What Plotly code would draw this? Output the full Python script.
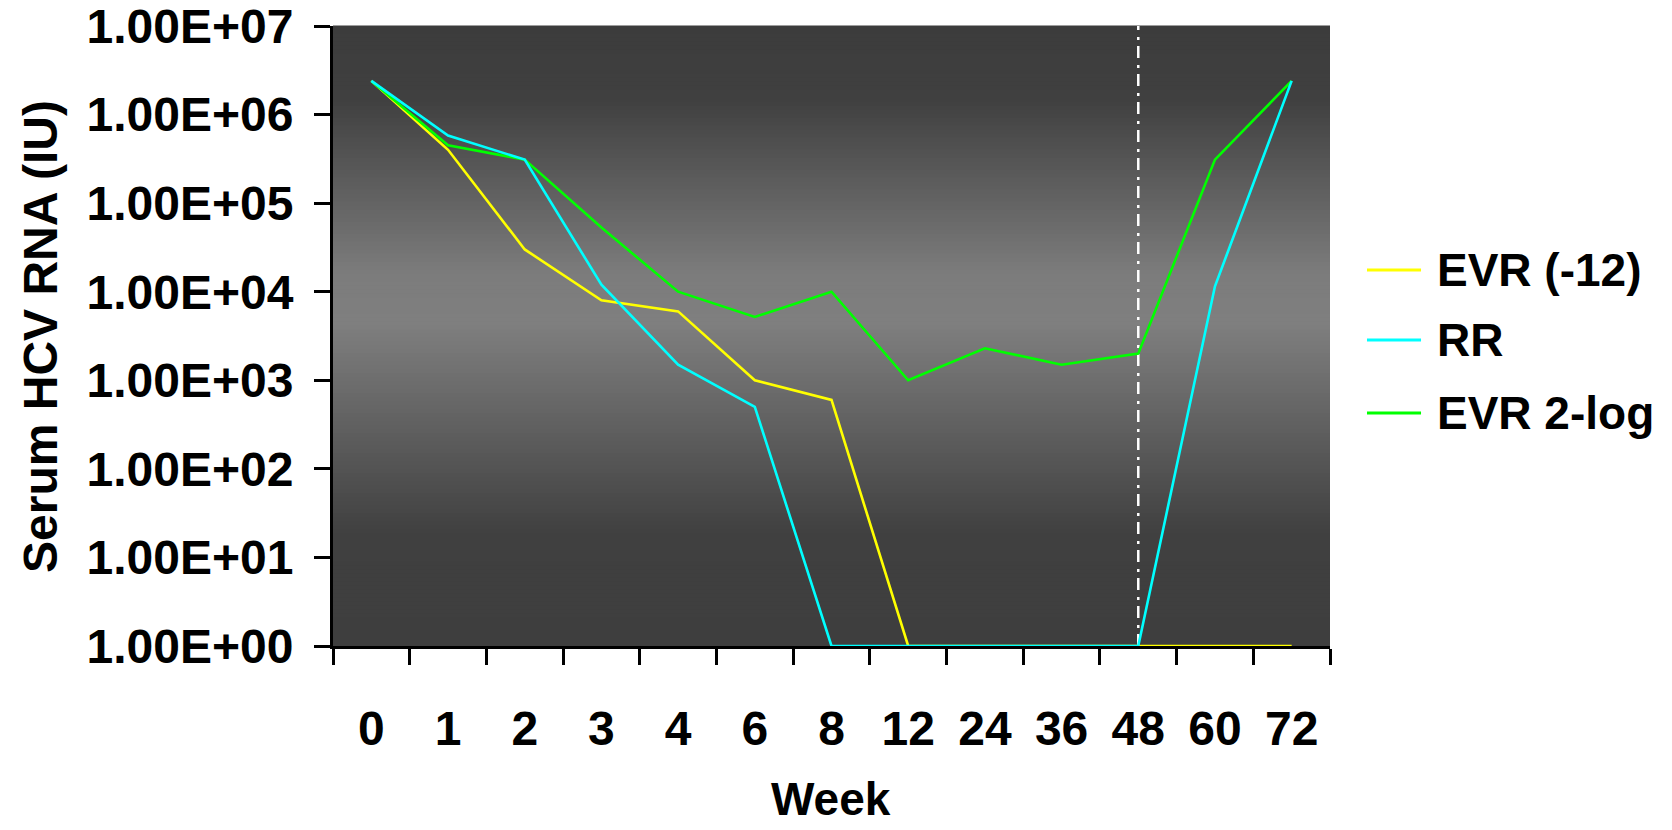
import plotly.graph_objects as go

weeks = ["0", "1", "2", "3", "4", "6", "8", "12", "24", "36", "48", "60", "72"]
evr_12 = [2.4e6, 4.0e5, 3.0e4, 8.0e3, 6.0e3, 1.0e3, 6.0e2, 1, 1, 1, 1, 1, 1]
rr = [2.4e6, 5.8e5, 3.1e5, 1.2e4, 1.5e3, 5.0e2, 1, 1, 1, 1, 1, 1.15e4, 2.4e6]
evr_2log = [2.4e6, 4.5e5, 3.1e5, 5.3e4, 1.0e4, 5.2e3, 1.0e4, 1.0e3, 2.3e3, 1.5e3, 2.0e3, 3.1e5, 2.4e6]
ytick_vals = [1, 10, 100, 1000, 1e4, 1e5, 1e6, 1e7]
ytick_text = ["1.00E+00", "1.00E+01", "1.00E+02", "1.00E+03", "1.00E+04", "1.00E+05", "1.00E+06", "1.00E+07"]
series_names = ["EVR (-12)", "RR", "EVR 2-log"]
series_colors = ["#FFFF00", "#00FFFF", "#00FF00"]

FONT = "Liberation Sans, Arial, Helvetica, sans-serif"

fig = go.Figure()
# draw order: yellow, green, cyan
for vals, name, col in [(evr_12, series_names[0], series_colors[0]),
                        (evr_2log, series_names[2], series_colors[2]),
                        (rr, series_names[1], series_colors[1])]:
    fig.add_trace(go.Scatter(x=weeks, y=vals, mode="lines", name=name,
                             line=dict(color=col, width=2.6), cliponaxis=False,
                             showlegend=False))

# gradient background (style only)
stops = [(0.0, 60), (0.12, 64), (0.40, 124), (0.48, 127), (0.82, 64), (1.0, 62)]
def grey_at(t):
    for (a, ca), (b, cb) in zip(stops[:-1], stops[1:]):
        if a <= t <= b:
            f = (t - a) / (b - a) if b > a else 0
            return int(round(ca + (cb - ca) * f))
    return stops[-1][1]

shapes = []
N = 155
for i in range(N):
    t0 = i / N
    t1 = (i + 1) / N
    g = grey_at((t0 + t1) / 2)
    shapes.append(dict(type="rect", xref="x domain", yref="y domain",
                       x0=0, x1=1, y0=1 - t1, y1=1 - t0 + 0.001,
                       fillcolor=f"rgb({g},{g},{g})", line=dict(width=0),
                       layer="below"))

# vertical dash-dot line at week 48
shapes.append(dict(type="line", xref="x", yref="y domain",
                   x0=weeks.index("48"), x1=weeks.index("48"), y0=0, y1=1,
                   line=dict(color="white", width=2.5, dash="12px,6px,3px,7px"),
                   layer="below"))

# manual legend
leg_y = [0.6065, 0.4935, 0.3758]
annotations = []
for name, col, yy in zip(series_names, series_colors, leg_y):
    shapes.append(dict(type="line", xref="paper", yref="paper",
                       x0=1.0371, x1=1.0913, y0=yy, y1=yy,
                       line=dict(color=col, width=3)))
    annotations.append(dict(text=name, xref="paper", yref="paper",
                            x=1.1053, y=yy, xanchor="left", yanchor="middle",
                            showarrow=False,
                            font=dict(family=FONT, size=46, color="black", weight="bold")))

annotations.append(dict(text="Serum HCV RNA (IU)", xref="paper", yref="paper",
                        x=-0.2939, y=0.5, xanchor="center", yanchor="middle",
                        textangle=-90, showarrow=False,
                        font=dict(family=FONT, size=48, color="black", weight="bold")))
annotations.append(dict(text="Week", xref="paper", yref="paper",
                        x=0.4995, y=-0.2468, xanchor="center", yanchor="middle",
                        showarrow=False,
                        font=dict(family=FONT, size=46, color="black", weight="bold")))

fig.update_layout(
    width=1672, height=830,
    margin=dict(l=333, r=342, t=26, b=184, pad=0, autoexpand=False),
    paper_bgcolor="white", plot_bgcolor="#444444",
    shapes=shapes, annotations=annotations,
    showlegend=False,
    xaxis=dict(type="category", categoryorder="array", categoryarray=weeks,
               tickson="boundaries", ticks="outside", ticklen=16, tickwidth=2.5,
               tickcolor="black", showline=True, linecolor="black", linewidth=3,
               showgrid=False, zeroline=False, layer="below traces",
               ticklabelstandoff=38, automargin=False,
               tickfont=dict(family=FONT, size=48, color="black", weight="bold"),
               range=[-0.5, len(weeks) - 0.5]),
    yaxis=dict(type="log", range=[0, 7], tickvals=ytick_vals, ticktext=ytick_text,
               ticks="outside", ticklen=16, tickwidth=2.5, tickcolor="black",
               showline=True, linecolor="black", linewidth=3,
               showgrid=False, zeroline=False, layer="below traces",
               ticklabelstandoff=11, automargin=False, ticklabeloverflow="allow",
               tickfont=dict(family=FONT, size=48, color="black", weight="bold")),
)

fig.write_html("out.html", config={"displayModeBar": False},
               post_script="document.body.style.margin='0';document.body.style.overflow='hidden';")
